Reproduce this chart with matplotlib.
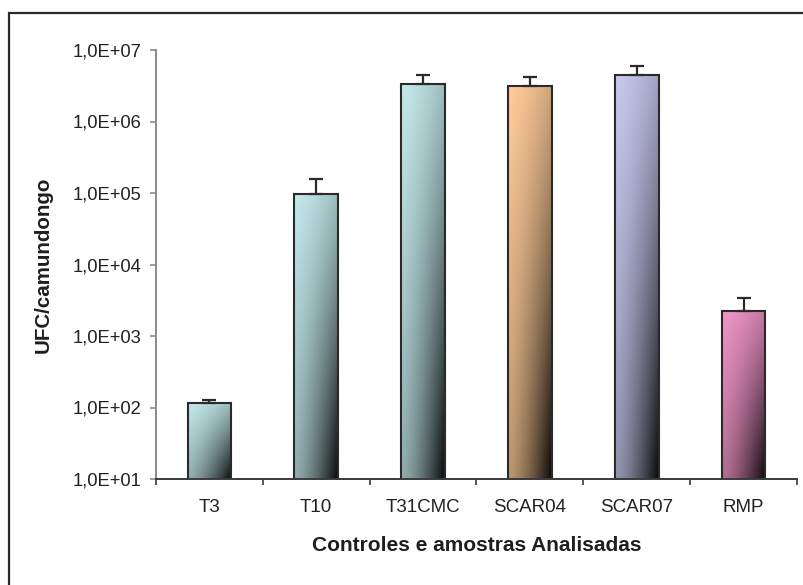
import numpy as np
import matplotlib
matplotlib.use("Agg")
import matplotlib.pyplot as plt
from matplotlib.patches import Rectangle
from matplotlib.ticker import FixedLocator, FixedFormatter, NullFormatter

plt.rcParams['font.family'] = ['Liberation Sans', 'DejaVu Sans']

# Data
categories = ["T3", "T10", "T31CMC", "SCAR04", "SCAR07", "RMP"]
ufc_means = [117, 9.7e4, 3.3e6, 3.1e6, 4.5e6, 2.25e3]
ufc_errors = [10, 6.0e4, 1.1e6, 1.1e6, 1.5e6, 1.1e3]
bar_colors = ["#C4E9EB", "#C4E9EB", "#C4E9EB", "#FFCC99", "#C9C9EF", "#F095C8"]
ytick_values = [1e1, 1e2, 1e3, 1e4, 1e5, 1e6, 1e7]
ytick_labels = ["1,0E+01", "1,0E+02", "1,0E+03", "1,0E+04", "1,0E+05",
                "1,0E+06", "1,0E+07"]
xlabel = "Controles e amostras Analisadas"
ylabel = "UFC/camundongo"

W, H = 804, 585
fig = plt.figure(figsize=(W / 100, H / 100), dpi=100)
fig.patch.set_facecolor("white")

# Outer frame (runs off the right and bottom edges)
fig.add_artist(Rectangle((9 / W, -0.05), 1.2, 1 - 13 / H + 0.05,
                         transform=fig.transFigure, fill=False,
                         edgecolor="#2a2a2a", linewidth=1.6, zorder=10))

ax_left, ax_right = 156 / W, 797 / W
ax_top, ax_bottom = 1 - 50 / H, 1 - 479 / H
ax = fig.add_axes([ax_left, ax_bottom, ax_right - ax_left, ax_top - ax_bottom])
ax.set_facecolor("none")

x = np.arange(len(categories))
bar_w = 0.41
ymin, ymax = 1e1, 1e7

ax.set_yscale("log")
ax.set_xlim(-0.5, len(categories) - 0.5)
ax.set_ylim(ymin, ymax)
ax.autoscale(False)

bars = ax.bar(x, ufc_means, width=bar_w, bottom=0, color="none",
              edgecolor="#2a2a2a", linewidth=1.5, zorder=3)

# Diagonal shading inside each bar: base colour at top-left to near black
# at the bottom-right corner.
nu, nv = 80, 200
u = np.linspace(0, 1, nu)[None, :]
v = np.linspace(0, 1, nv)[:, None]
dark = 0.2 * u ** 1.4 + 0.26 * v + 0.5 * (u ** 1.4) * v ** 1.2
dark = np.clip(dark, 0, 0.93)

to_axes = ax.transData + ax.transAxes.inverted()
for rect, col in zip(bars, bar_colors):
    base = np.array(matplotlib.colors.to_rgb(col))
    img = base[None, None, :] * (1 - dark[:, :, None])
    x0 = rect.get_x()
    x1 = x0 + rect.get_width()
    y1 = rect.get_height()
    (ax0, ay0), (ax1, ay1) = to_axes.transform([(x0, ymin), (x1, y1)])
    im = ax.imshow(img, extent=(ax0, ax1, ay0, ay1), transform=ax.transAxes,
                   aspect="auto", interpolation="bilinear", origin="upper",
                   zorder=2)
    im.set_clip_path(rect)

ax.set_xlim(-0.5, len(categories) - 0.5)
ax.set_ylim(ymin, ymax)

# Upward-only error bars
ax.errorbar(x, ufc_means, yerr=[np.zeros(len(x)), ufc_errors], fmt="none",
            ecolor="#2a2a2a", elinewidth=1.6, capsize=5, capthick=1.6,
            zorder=4)

# Axes styling
for side in ("top", "right"):
    ax.spines[side].set_visible(False)
ax.spines["left"].set_color("#8a8a8a")
ax.spines["left"].set_linewidth(1.4)
ax.spines["bottom"].set_color("#3a3a3a")
ax.spines["bottom"].set_linewidth(1.4)
ax.spines["bottom"].set_zorder(5)

ax.yaxis.set_major_locator(FixedLocator(ytick_values))
ax.yaxis.set_major_formatter(FixedFormatter(ytick_labels))
ax.yaxis.set_minor_locator(FixedLocator([]))
ax.yaxis.set_minor_formatter(NullFormatter())
ax.tick_params(axis="y", which="major", direction="out", length=4,
               width=1.2, color="#8a8a8a", pad=6.5, labelsize=13.2,
               labelcolor="#222222")

ax.set_xticks(x)
ax.set_xticklabels(categories)
ax.xaxis.set_minor_locator(FixedLocator(np.arange(-0.5, len(categories), 1.0)))
ax.tick_params(axis="x", which="major", length=0, pad=14.5, labelsize=13.5,
               labelcolor="#222222")
ax.tick_params(axis="x", which="minor", direction="out", length=4,
               width=1.2, color="#3a3a3a")

ax.set_xlabel(xlabel, fontsize=15, fontweight="bold", color="#1e1e1e")
ax.xaxis.set_label_coords(0.5, -0.133)
ax.set_ylabel(ylabel, fontsize=14.8, fontweight="bold", color="#1e1e1e")
ax.yaxis.set_label_coords(-0.161, 0.5)

fig.savefig("out.png", dpi=100, facecolor="white")
